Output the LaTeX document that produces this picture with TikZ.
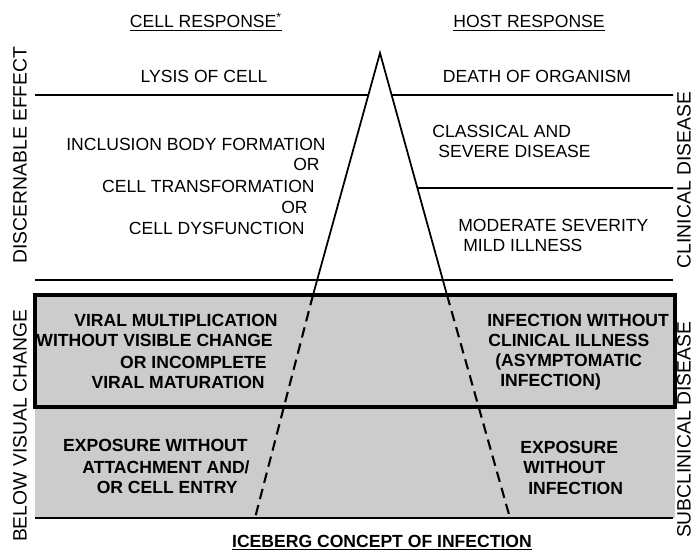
\documentclass[tikz,border=0pt]{standalone}
\usepackage{fontspec}
\setmainfont{Liberation Sans}
\usetikzlibrary{calc}

\begin{document}
\begin{tikzpicture}[
  x=0.02cm, y=-0.02cm,
  lbl/.style={font=\fontsize{10}{12}\selectfont, inner sep=0pt},
  blbl/.style={font=\fontsize{10}{12}\selectfont\bfseries, inner sep=0pt},
  side/.style={font=\fontsize{11}{13}\selectfont, rotate=90, inner sep=0pt},
  rule/.style={line width=1pt},
  berg/.style={line width=1pt},
  under/.style={line width=1.2pt, dash pattern=on 6pt off 3.5pt},
]
\useasboundingbox (0,0) rectangle (693,554);

% ---- Stippled zone below visual change ----
\fill[black!20] (35,295) rectangle (675,518);

% ---- Iceberg ----
\coordinate (apex) at (380,53);
\coordinate (lw) at (313,295);
\coordinate (rw) at (447,295);
\coordinate (lb) at (255,518);
\coordinate (rb) at (510,518);
\draw[berg] (lw) -- (apex) -- (rw);
\draw[under] (lw) -- (lb);
\draw[under] (rw) -- (rb);

% ---- Level lines ----
\coordinate (l1a) at (35,95);
\coordinate (l1b) at ($(apex)!0.1736!(lw)$);
\coordinate (l1c) at ($(apex)!0.1736!(rw)$);
\coordinate (l1d) at (673,95);
\draw[rule] (l1a) -- (l1b);
\draw[rule] (l1c) -- (l1d);

\coordinate (l2a) at ($(apex)!0.558!(rw)$);
\coordinate (l2b) at (673,188);
\draw[rule] (l2a) -- (l2b);

\coordinate (l3a) at (35,280);
\coordinate (l3b) at (673,280);
\draw[rule] (l3a) -- (l3b);

\draw[line width=1.8pt] (35,295) rectangle (675,407);

\coordinate (l4a) at (35,518);
\coordinate (l4b) at (673,518);
\draw[rule] (l4a) -- (l4b);

% ---- Headings ----
\node[lbl, anchor=base] (cellresp) at (206,28) {\underline{CELL RESPONSE\textsuperscript{*}}};
\node[lbl, anchor=base] (hostresp) at (529,28) {\underline{HOST RESPONSE}};

% ---- Cell response (left) ----
\node[lbl, anchor=base] (lysis) at (204,83) {LYSIS OF CELL};
\node[lbl, anchor=base east] (incl) at (326,151) {INCLUSION BODY FORMATION};
\node[lbl, anchor=base east] (or1) at (320,171) {OR};
\node[lbl, anchor=base east] (transf) at (315,193) {CELL TRANSFORMATION};
\node[lbl, anchor=base east] (or2) at (308,213) {OR};
\node[lbl, anchor=base east] (dysf) at (305,234) {CELL DYSFUNCTION};

\node[blbl, anchor=base east] (vm1) at (278,326) {VIRAL MULTIPLICATION};
\node[blbl, anchor=base east] (vm2) at (273,346) {WITHOUT VISIBLE CHANGE};
\node[blbl, anchor=base east] (vm3) at (267,368) {OR INCOMPLETE};
\node[blbl, anchor=base east] (vm4) at (265,388) {VIRAL MATURATION};

\node[blbl, anchor=base east] (ex1) at (248,451) {EXPOSURE WITHOUT};
\node[blbl, anchor=base east] (ex2) at (250,473) {ATTACHMENT AND/};
\node[blbl, anchor=base east] (ex3) at (238,493) {OR CELL ENTRY};

% ---- Host response (right) ----
\node[lbl, anchor=base] (death) at (537,83) {DEATH OF ORGANISM};
\node[lbl, anchor=base west] (class1) at (432,137) {CLASSICAL AND};
\node[lbl, anchor=base west] (class2) at (438,157) {SEVERE DISEASE};
\node[lbl, anchor=base west] (mod1) at (458,231) {MODERATE SEVERITY};
\node[lbl, anchor=base west] (mod2) at (463,251) {MILD ILLNESS};

\node[blbl, anchor=base west] (inf1) at (487,326) {INFECTION WITHOUT};
\node[blbl, anchor=base west] (inf2) at (488,346) {CLINICAL ILLNESS};
\node[blbl, anchor=base west] (inf3) at (495,366) {(ASYMPTOMATIC};
\node[blbl, anchor=base west] (inf4) at (500,386) {INFECTION)};

\node[blbl, anchor=base west] (exr1) at (520,453) {EXPOSURE};
\node[blbl, anchor=base west] (exr2) at (523,473) {WITHOUT};
\node[blbl, anchor=base west] (exr3) at (528,494) {INFECTION};

% ---- Side labels ----
\node[side] (discern) at (20,155) {DISCERNABLE EFFECT};
\node[side] (below) at (20,426) {BELOW VISUAL CHANGE};
\node[side] (clin) at (684,180) {CLINICAL DISEASE};
\node[side] (subclin) at (684,430) {SUBCLINICAL DISEASE};

% ---- Title ----
\node[blbl, anchor=base] (title) at (382,547) {\underline{ICEBERG CONCEPT OF INFECTION}};

\end{tikzpicture}
\end{document}
